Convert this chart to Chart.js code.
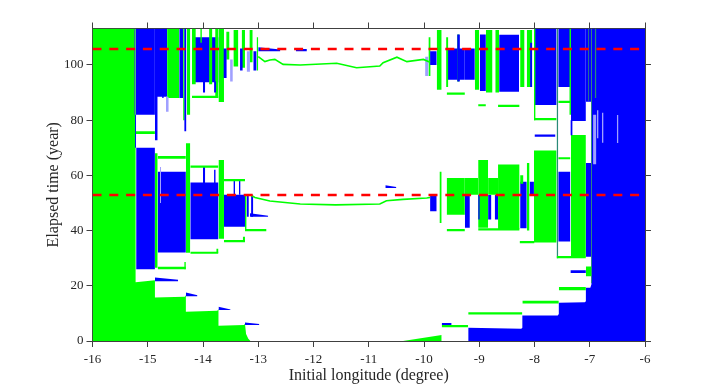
<!DOCTYPE html>
<html>
<head>
<meta charset="utf-8">
<title>Elapsed time against initial longitude</title>
<script src="https://cdn.jsdelivr.net/npm/chart.js@4"></script>
<style>
  html, body { margin: 0; padding: 0; background: #fff; }
  #wrap { width: 714px; height: 385px; }
</style>
</head>
<body>
<div id="wrap"><canvas id="chart" width="714" height="385"></canvas></div>
<script>
'use strict';

var lonMin = -16;
var lonMax = -6;
var yearMin = 0;
var yearMax = 113.2;
var redLevels = [52.9, 105.8];

// staircases along the bottom, filled down to year 0
var greenStairLon = [-16, -15.22, -15.22, -14.87, -14.87, -14.33, -14.31, -14.31, -13.74, -13.72, -13.72, -13.26, -13.24, -13.22, -13.18, -13.14];
var greenStairYear = [113.2, 113.2, 21.3, 22, 15.8, 16, 16.6, 10.6, 11, 11.6, 5.5, 5.8, 6.2, 2.5, 0.8, 0];
var blueStairLon = [-9.2, -9.2, -8.24, -8.22, -8.22, -7.58, -7.56, -7.56, -7.09, -7.07, -7.07, -6.99, -6.97, -6.97, -6, -6];
var blueStairYear = [0, 4.8, 4.4, 4.8, 9.2, 9.2, 9.8, 13.9, 14, 14.4, 19.3, 19.3, 20.5, 113.2, 113.2, 0];

// every row: [lonLeft, lonRight, yearLow, yearTopLeft, yearTopRight (optional)]
var greenBlocks = [
  [-10.38, -9.68, 0, 0, 2.2],
  [-14.65, -14.43, 88, 113.2],
  [-14.31, -14.23, 32, 71.6],
  [-14.29, -14.23, 82, 113.2],
  [-13.72, -13.62, 37, 65.6],
  [-13.72, -13.62, 86.6, 113.2],
  [-9.59, -9.26, 45.7, 59],
  [-9.02, -8.84, 41, 65.6],
  [-8.66, -8.27, 40.5, 63.9],
  [-8.01, -7.6, 35.7, 69],
  [-7.34, -7.07, 30.5, 74.6]
];

var blueBlocks = [
  [-15.21, -14.87, 26, 70],
  [-15.22, -14.87, 82, 113.2],
  [-14.87, -14.65, 88.5, 113.2],
  [-14.82, -14.31, 32.1, 61.3],
  [-14.43, -14.36, 88, 113.2],
  [-14.23, -13.72, 36.9, 57.4],
  [-14.2, -13.72, 93.7, 110],
  [-13.62, -13.24, 41.4, 53],
  [-9.59, -9.26, 94.6, 106],
  [-9.26, -9.08, 94.6, 106],
  [-8.99, -8.88, 90.6, 111],
  [-8.64, -8.28, 90.3, 110.9],
  [-8.26, -8.14, 40.8, 57.7],
  [-8.09, -8.01, 53, 57.7],
  [-8.01, -7.6, 85.5, 113.2],
  [-7.57, -7.35, 36, 61.3],
  [-7.57, -7.35, 92, 113.2],
  [-7.34, -7.07, 79.7, 113.2],
  [-7.07, -6.97, 30.5, 64.5],
  [-7.07, -6.97, 86.7, 113.2]
];

var greenStripes = [
  [-14.87, -14.82, 26.5, 68],
  [-14.36, -14.33, 80, 113.2],
  [-14.2, -14.13, 93, 113.2],
  [-13.89, -13.83, 93, 113.2],
  [-13.78, -13.72, 88, 113.2],
  [-14.05, -14.02, 108, 113.2],
  [-13.58, -13.52, 102, 112],
  [-13.45, -13.36, 99.4, 112.7],
  [-13.3, -13.24, 99, 112.7],
  [-13.16, -13.1, 101, 112.7],
  [-13.03, -13, 98, 110],
  [-13.24, -13.21, 40, 53],
  [-9.92, -9.88, 96, 110],
  [-9.77, -9.68, 91, 112.7],
  [-9.6, -9.56, 92, 110],
  [-9.4, -9.36, 94, 111],
  [-9.08, -9, 91, 112.7],
  [-8.88, -8.76, 90, 112.7],
  [-8.71, -8.64, 90, 112.7],
  [-8.26, -8.18, 92, 112.7],
  [-8.14, -8.04, 92, 112.7],
  [-9.72, -9.68, 42.7, 61.3],
  [-9.26, -9.02, 53, 59],
  [-8.84, -8.66, 53, 59],
  [-8.14, -8.09, 40, 64.5],
  [-7.37, -7.34, 82, 113.2],
  [-8.26, -8.2, 57, 60],
  [-8.01, -7.98, 80, 113.2]
];

var blueStripes = [
  [-15.23, -15.21, 70, 82],
  [-14.74, -14.71, 88, 113.2],
  [-14.87, -14.82, 72.7, 90],
  [-14.34, -14.3, 76, 113.2],
  [-14, -13.96, 57, 63],
  [-13.8, -13.77, 57, 62],
  [-14, -13.96, 90, 94],
  [-13.8, -13.76, 90, 94],
  [-13.63, -13.57, 95.3, 106],
  [-13.33, -13.28, 98, 106],
  [-13.09, -13.03, 98, 105],
  [-9.89, -9.77, 47, 52.9],
  [-9.26, -9.17, 41, 52.9],
  [-9.02, -8.99, 44, 52.9],
  [-8.84, -8.78, 44, 52.9],
  [-8.72, -8.66, 44, 52.9],
  [-9.89, -9.77, 100, 105],
  [-9.4, -9.35, 94, 111],
  [-8.08, -8.04, 92, 108],
  [-7.35, -7.31, 74.5, 80],
  [-13.45, -13.42, 53, 58],
  [-13.35, -13.32, 53, 58],
  [-13.21, -13.17, 45, 53],
  [-13.13, -13.09, 45, 53]
];

var paleStripes = [
  [-13.51, -13.46, 94, 102],
  [-13.21, -13.15, 97.5, 105],
  [-14.67, -14.62, 83, 88.5],
  [-6.94, -6.88, 64, 82],
  [-6.87, -6.84, 73.4, 83.6],
  [-6.78, -6.75, 71.8, 82.7],
  [-6.51, -6.48, 71.7, 81.9],
  [-9.98, -9.92, 96, 103],
  [-14.78, -14.76, 50, 63]
];

var tealStripes = [
  [-15.25, -15.22, 82, 113.2],
  [-7.03, -7.01, 87, 113.2],
  [-6.98, -6.96, 21, 113.2],
  [-6.91, -6.88, 88, 113.2],
  [-7.6, -7.57, 30, 113.2]
];

var greenArcs = [
  [-15.22, -14.87, 75, 76],
  [-14.82, -14.31, 26, 26.9],
  [-14.34, -14.31, 26, 28.6],
  [-14.23, -13.72, 31.6, 32.3],
  [-13.76, -13.72, 32, 33.4],
  [-13.62, -13.24, 35.8, 36.6],
  [-13.28, -13.24, 36, 37.8],
  [-13.24, -12.85, 39.8, 40.6],
  [-14.82, -14.31, 66, 67],
  [-14.23, -13.72, 62.8, 63.6],
  [-13.62, -13.24, 57.9, 58.7],
  [-14.2, -13.72, 88, 88.8],
  [-9.59, -9.26, 39.8, 40.6],
  [-9.68, -9.2, 5, 5.8],
  [-9.2, -8.22, 9.6, 10.4],
  [-8.22, -7.56, 13.6, 14.6],
  [-7.56, -7.07, 18.4, 19.6],
  [-7.07, -6.97, 23.5, 27],
  [-7.6, -7.07, 30, 30.8],
  [-9.02, -8.27, 40, 40.8],
  [-8.27, -8, 35.4, 36.2],
  [-8.01, -7.6, 80, 80.8],
  [-8.66, -8.27, 84.8, 85.6],
  [-9.02, -8.88, 85, 85.8],
  [-9.59, -9.26, 89.2, 90],
  [-7.57, -7.35, 86.2, 87],
  [-7.57, -7.35, 65.8, 66.6]
];

var blueSlivers = [
  [-14.87, -14.45, 21.6, 23, 22.2],
  [-14.31, -14.1, 16.2, 17.6, 16.6],
  [-13.72, -13.5, 11.2, 12.4, 11.4],
  [-13.24, -12.98, 5.8, 6.7, 6.2],
  [-13, -12.6, 105, 106.4, 105.6],
  [-12.32, -12.12, 105, 105.8],
  [-13.15, -12.82, 45, 46.3, 45.4],
  [-9.68, -9.5, 5.8, 6.5],
  [-8, -7.62, 74, 74.8],
  [-7.35, -7.07, 24.6, 25.6],
  [-10.7, -10.5, 55.4, 56.4, 55.8]
];

var upperCurveLon = [-13, -12.88, -12.79, -12.7, -12.55, -12.24, -11.58, -11.22, -10.8, -10.74, -10.49, -10.31, -10.01, -9.89];
var upperCurveYear = [103, 101.2, 101.8, 102, 100.2, 100, 100.6, 99, 99.6, 100.8, 102.8, 101.2, 102, 101];
var lowerCurveLon = [-13.15, -13.06, -12.79, -12.24, -11.6, -10.8, -10.68, -10.38, -9.95, -9.89];
var lowerCurveYear = [53, 52, 50.7, 49.6, 49.3, 49.6, 50.8, 51.3, 51.8, 52];

var GREEN = '#00ff00';
var BLUE = '#0000ff';
var PALE = '#a0a0ff';
var TEAL = '#2a8a78';
var RED = '#ff0000';

function blockDataset(row, color) {
  var topRight = row.length > 4 ? row[4] : row[3];
  return {
    data: [{x: row[0], y: row[3]}, {x: row[1], y: topRight}],
    fill: {value: row[2]},
    backgroundColor: color,
    borderWidth: 0,
    borderColor: color,
    pointRadius: 0
  };
}

function lineDataset(lons, years, color, width, dash) {
  return {
    data: lons.map(function(lon, i) { return {x: lon, y: years[i]}; }),
    fill: false,
    borderColor: color,
    borderWidth: width,
    borderDash: dash || [],
    pointRadius: 0
  };
}

function stairDataset(lons, years, color) {
  var stair = lineDataset(lons, years, color, 0);
  stair.fill = {value: 0};
  stair.backgroundColor = color;
  return stair;
}

function addBlocks(list, rows, color) {
  rows.forEach(function(row) {
    list.push(blockDataset(row, color));
  });
}

var datasets = [];
datasets.push(stairDataset(greenStairLon, greenStairYear, GREEN));
datasets.push(stairDataset(blueStairLon, blueStairYear, BLUE));
addBlocks(datasets, greenBlocks, GREEN);
addBlocks(datasets, blueBlocks, BLUE);
addBlocks(datasets, greenStripes, GREEN);
addBlocks(datasets, blueStripes, BLUE);
addBlocks(datasets, paleStripes, PALE);
addBlocks(datasets, tealStripes, TEAL);
addBlocks(datasets, greenArcs, GREEN);
addBlocks(datasets, blueSlivers, BLUE);
datasets.push(lineDataset(upperCurveLon, upperCurveYear, GREEN, 1.6));
datasets.push(lineDataset(lowerCurveLon, lowerCurveYear, GREEN, 1.6));
redLevels.forEach(function(level) {
  datasets.push(lineDataset([lonMin, lonMax], [level, level], RED, 2.4, [9, 7.8]));
});
// chart.js paints the first dataset last, so flip to keep the order above
datasets.reverse();

var axisColor = '#404040';
var textColor = '#262626';
var serif = '"Liberation Serif", "Times New Roman", serif';

function sideGrid() {
  return {drawOnChartArea: false, color: axisColor, tickColor: axisColor, tickLength: 6};
}

function fixedSize(prop, size) {
  return function(scale) { scale[prop] = size; };
}

new Chart(document.getElementById('chart').getContext('2d'), {
  type: 'line',
  data: {datasets: datasets},
  options: {
    responsive: false,
    animation: false,
    layout: {padding: 0},
    plugins: {legend: {display: false}, tooltip: {enabled: false}},
    elements: {line: {tension: 0, borderCapStyle: 'butt'}},
    scales: {
      x: {
        type: 'linear', position: 'bottom', min: lonMin, max: lonMax,
        afterFit: fixedSize('height', 44),
        border: {color: axisColor},
        grid: sideGrid(),
        ticks: {stepSize: 1, autoSkip: false, maxRotation: 0, includeBounds: false, padding: 5, color: textColor, font: {family: serif, size: 13}},
        title: {display: true, text: 'Initial longitude (degree)', color: textColor, padding: {top: 0, bottom: 0}, font: {family: serif, size: 16}}
      },
      x2: {
        type: 'linear', position: 'top', min: lonMin, max: lonMax,
        afterFit: fixedSize('height', 28.5),
        border: {color: axisColor},
        grid: sideGrid(),
        ticks: {stepSize: 1, autoSkip: false, includeBounds: false, callback: function() { return ''; }}
      },
      y: {
        type: 'linear', position: 'left', min: yearMin, max: yearMax,
        afterFit: fixedSize('width', 92.5),
        border: {color: axisColor},
        grid: sideGrid(),
        ticks: {stepSize: 20, autoSkip: false, includeBounds: false, padding: 3, color: textColor, font: {family: serif, size: 13}},
        title: {display: true, text: 'Elapsed time (year)', color: textColor, padding: {top: 44, bottom: 0}, font: {family: serif, size: 16}}
      },
      y2: {
        type: 'linear', position: 'right', min: yearMin, max: yearMax,
        afterFit: fixedSize('width', 69),
        border: {color: axisColor},
        grid: sideGrid(),
        ticks: {stepSize: 20, autoSkip: false, includeBounds: false, callback: function() { return ''; }}
      }
    }
  }
});
</script>
</body>
</html>
